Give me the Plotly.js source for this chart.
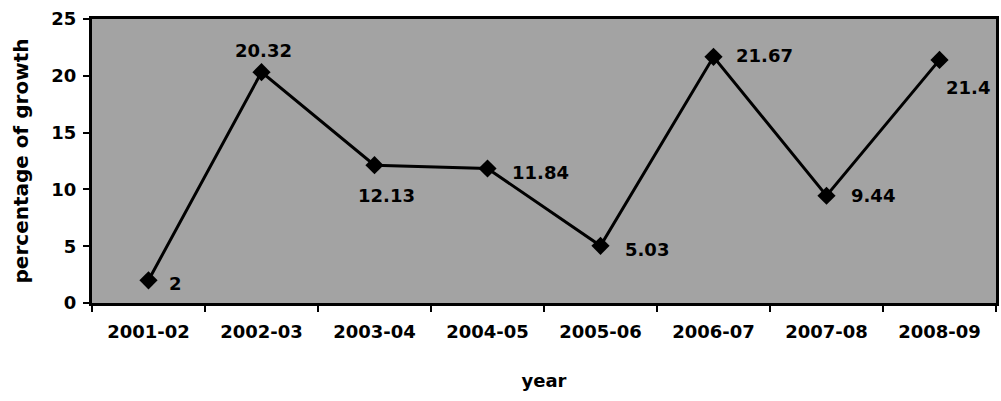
<!DOCTYPE html>
<html>
<head>
<meta charset="utf-8">
<script src="https://cdn.plot.ly/plotly-3.0.1.min.js"></script>
<style>html,body{margin:0;padding:0;background:#fff;}#chart{width:1001px;height:401px;}</style>
</head>
<body>
<div id="chart"></div>
<script>
var years = ["2001-02","2002-03","2003-04","2004-05","2005-06","2006-07","2007-08","2008-09"];
var growth = [2, 20.32, 12.13, 11.84, 5.03, 21.67, 9.44, 21.4];
var labels = ["2","20.32","12.13","11.84","5.03","21.67","9.44","21.4"];
var yTicks = [0,5,10,15,20,25];

// label placement styles (anchor, pixel shifts) per point
var labelAnchor = ["left","center","center","left","left","left","left","left"];
var labelDX = [18, 2, 12, 22, 22, 20, 22, 4];
var labelDY = [-3, 22, -30, -4, -4, 1, 0, -28];

var fam = "DejaVu Sans, Liberation Sans, Arial, sans-serif";

var trace = {
  x: years, y: growth, type: "scatter", mode: "lines+markers",
  line: {color: "#000", width: 3},
  marker: {symbol: "diamond", size: 14, color: "#000"},
  cliponaxis: false, hoverinfo: "none"
};

var annotations = years.map(function (yr, i) {
  return {
    x: yr, y: growth[i], xref: "x", yref: "y", text: labels[i], showarrow: false,
    xanchor: labelAnchor[i], yanchor: "middle", xshift: labelDX[i], yshift: labelDY[i],
    font: {family: fam, size: 18, color: "#000", weight: "bold"}
  };
});

var layout = {
  width: 1001, height: 401,
  margin: {l: 92, r: 5, t: 19, b: 98},
  paper_bgcolor: "#fff", plot_bgcolor: "#a3a3a3",
  showlegend: false,
  font: {family: fam, size: 16, color: "#000"},
  annotations: annotations,
  xaxis: {
    type: "category", range: [-0.5, 7.5], tickson: "boundaries",
    ticks: "outside", ticklen: 6, tickwidth: 2, tickcolor: "#000",
    showline: true, linecolor: "#000", linewidth: 3, mirror: true,
    showgrid: false, zeroline: false, ticklabelstandoff: 10,
    tickfont: {family: fam, size: 18, color: "#000", weight: "bold"},
    title: {text: "year", font: {family: fam, size: 18, color: "#000", weight: "bold"}, standoff: 34}
  },
  yaxis: {
    range: [0, 25], tickvals: yTicks, ticktext: yTicks.map(String),
    ticks: "outside", ticklen: 6, tickwidth: 2, tickcolor: "#000",
    showline: true, linecolor: "#000", linewidth: 3, mirror: true,
    showgrid: false, zeroline: false, ticklabelstandoff: 3,
    tickfont: {family: fam, size: 18, color: "#000", weight: "bold"},
    title: {text: "percentage of growth", font: {family: fam, size: 20, color: "#000", weight: "bold"}, standoff: 18}
  }
};

Plotly.newPlot("chart", [trace], layout, {staticPlot: true, displayModeBar: false});
</script>
</body>
</html>
